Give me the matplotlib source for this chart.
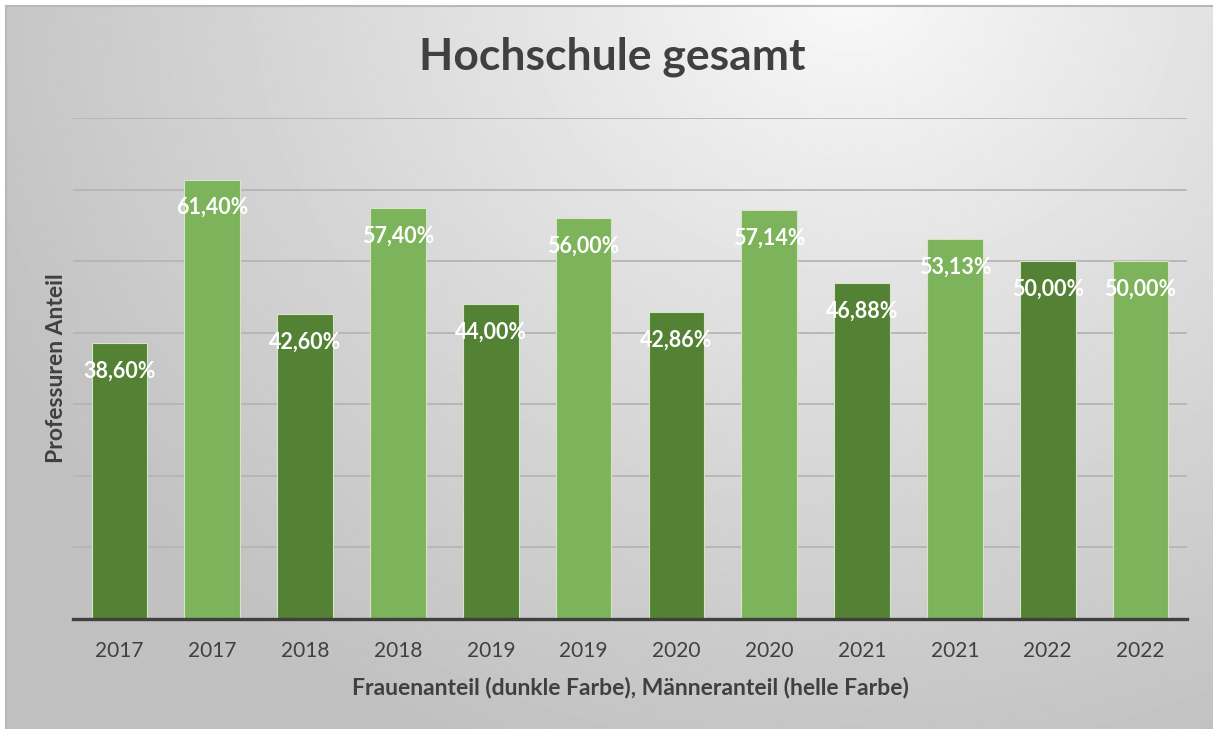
import numpy as np
import matplotlib.pyplot as plt

# Daten: abwechselnd Frauen- (dunkel) und Männeranteil (hell)
years = ["2017", "2017", "2018", "2018", "2019", "2019",
         "2020", "2020", "2021", "2021", "2022", "2022"]
shares = [38.60, 61.40, 42.60, 57.40, 44.00, 56.00,
          42.86, 57.14, 46.88, 53.13, 50.00, 50.00]
share_labels = ["38,60%", "61,40%", "42,60%", "57,40%", "44,00%", "56,00%",
                "42,86%", "57,14%", "46,88%", "53,13%", "50,00%", "50,00%"]

dark = "#548235"
light = "#7db35a"
text_col = "#404040"
plt.rcParams["font.family"] = ["Lato", "DejaVu Sans"]

W, H = 1213, 729
fig = plt.figure(figsize=(W / 100, H / 100), dpi=100)

# Hintergrund mit radialem Verlauf (hell oben Mitte, grau an den Rändern)
bg = fig.add_axes([6 / W, 0, 1 - 6 / W, 1 - 6 / H])
yy, xx = np.mgrid[0:H, 0:W]
d = np.sqrt((xx - 850) ** 2 + ((yy + 20) * 1.15) ** 2)
val = 250 - 57 * np.clip(d / 950, 0, 1) ** 0.9
bg.imshow(val, cmap="gray", vmin=0, vmax=255, aspect="auto", extent=[0, 1, 0, 1])
bg.set_axis_off()
fig.add_artist(plt.Line2D([6 / W, 1], [1 - 6 / H, 1 - 6 / H], color="#b8b8b8", lw=1.5))
fig.add_artist(plt.Line2D([6 / W, 6 / W], [0, 1 - 6 / H], color="#b8b8b8", lw=1.5))

ax = fig.add_axes([73 / W, 1 - 619 / H, (1187 - 73) / W, (619 - 118) / H])
ax.patch.set_alpha(0)
x = np.arange(len(years))
colors = [dark if i % 2 == 0 else light for i in range(len(years))]
ax.bar(x, shares, width=0.6, color=colors, edgecolor="#d4e6c4", linewidth=0.8, zorder=3)

for xi, v, lab in zip(x, shares, share_labels):
    ax.annotate(lab, (xi, v), xytext=(0, -28), textcoords="offset pixels",
                ha="center", va="center", color="white", fontsize=15.5,
                fontweight="bold", zorder=4)

ax.set_xlim(-0.5, len(years) - 0.5)
ax.set_ylim(0, 70)
ax.set_yticks(np.arange(10, 71, 10))
ax.yaxis.grid(True, color="#b5b5b5", lw=1.3, zorder=0)
ax.tick_params(axis="y", left=False, labelleft=False)
ax.set_xticks(x)
ax.set_xticklabels(years, fontsize=15, color=text_col)
ax.tick_params(axis="x", length=0, pad=16)
for s in ["top", "right", "left"]:
    ax.spines[s].set_visible(False)
ax.spines["bottom"].set_color("#404040")
ax.spines["bottom"].set_linewidth(2.4)
ax.spines["bottom"].set_zorder(5)

fig.text(630 / W, 1 - 688 / H, "Frauenanteil (dunkle Farbe), Männeranteil (helle Farbe)",
         ha="center", va="center", fontsize=16.5, fontweight="bold", color=text_col)
fig.text(57 / W, 1 - 368 / H, "Professuren Anteil", ha="center", va="center",
         rotation=90, fontsize=16.5, fontweight="bold", color=text_col)
fig.text(612 / W, 1 - 57 / H, "Hochschule gesamt", ha="center", va="center",
         fontsize=32, fontweight="bold", color=text_col)

fig.savefig("out.png", dpi=100)
